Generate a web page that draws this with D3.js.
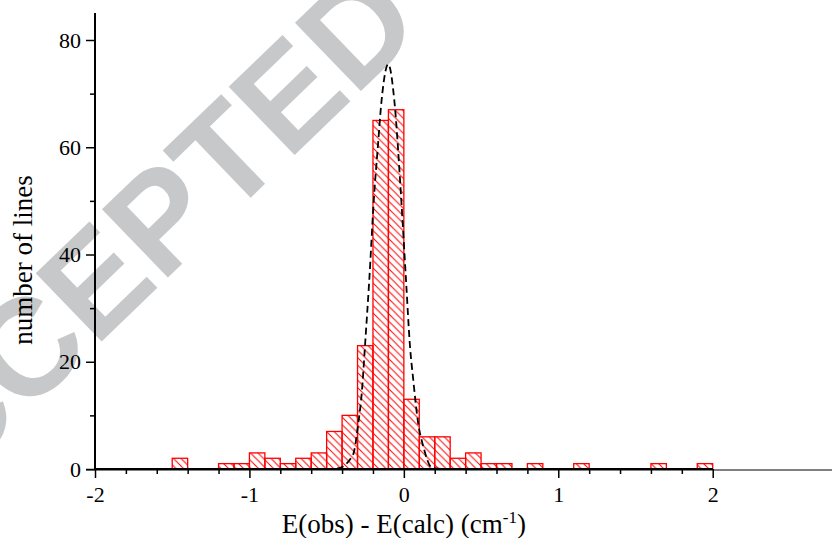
<!DOCTYPE html>
<html>
<head>
<meta charset="utf-8">
<script src="https://cdn.jsdelivr.net/npm/d3@7"></script>
<style>
  body { margin: 0; background: #fff; }
  svg { display: block; }
  .serif { font-family: "Liberation Serif", "Times New Roman", Times, "DejaVu Serif", serif; }
</style>
</head>
<body>
<div id="chart-area"></div>
<script>
// SVG size
let width = 832,
	height = 538;

// histogram bins (left edge, bin width 0.1) and counts
const binStarts = [-1.5, -1.2, -1.1, -1.0, -0.9, -0.8, -0.7, -0.6, -0.5, -0.4, -0.3, -0.2, -0.1, 0.0, 0.1, 0.2, 0.3, 0.4, 0.5, 0.6, 0.8, 1.1, 1.6, 1.9];
const counts    = [2, 1, 1, 3, 2, 1, 2, 3, 7, 10, 23, 65, 67, 13, 6, 6, 2, 3, 1, 1, 1, 1, 1, 1];
const binWidth = 0.1;

// dashed fit curve
const fitX = [-2.0, -0.5, -0.43, -0.33, -0.295, -0.271, -0.252, -0.224, -0.192, -0.170, -0.144, -0.101, -0.062, -0.019, 0.014, 0.040, 0.061, 0.093, 0.126, 0.180, 0.25, 2.0];
const fitY = [0, 0, 0.1, 2.6, 8.5, 14.7, 22.8, 35.2, 51.3, 59.5, 68.8, 75.5, 68.8, 51.3, 35.2, 22.8, 16.6, 8.5, 4.2, 0.3, 0, 0];

// ticks
const xTickVals = [-2, -1, 0, 1, 2];
const xMinorVals = [-1.8, -1.6, -1.4, -1.2, -0.8, -0.6, -0.4, -0.2, 0.2, 0.4, 0.6, 0.8, 1.2, 1.4, 1.6, 1.8];
const yTickVals = [0, 20, 40, 60, 80];
const yMinorVals = [10, 30, 50, 70];

drawChart();

function drawChart() {
	let svg = d3.select("#chart-area").append("svg").attr("width", width).attr("height", height);

	let x = d3.scaleLinear().domain([-2, 2]).range([95, 712.7]);
	let y = d3.scaleLinear().domain([0, 80]).range([469, 40]);

	// hatch pattern
	let defs = svg.append("defs");
	let s = 7.5;
	defs.append("pattern")
		.attr("id", "hatch")
		.attr("patternUnits", "userSpaceOnUse")
		.attr("width", s).attr("height", s)
		.append("path")
		.attr("d", `M${-s/2},${s/2} L${s/2},${s*1.5} M0,0 L${s},${s} M${s/2},${-s/2} L${s*1.5},${s/2}`)
		.attr("stroke", "#ff0000")
		.attr("stroke-width", 1);

	// watermark
	svg.append("text")
		.attr("transform", "translate(153,292) rotate(-44)")
		.attr("text-anchor", "middle")
		.style("font-family", "'Liberation Sans', Arial, sans-serif")
		.style("font-weight", "bold")
		.style("font-size", "138px")
		.style("fill", "#c7c8ca")
		.text("ACCEPTED");

	// gray baseline running to the right edge
	svg.append("line")
		.attr("x1", 86).attr("x2", width)
		.attr("y1", y(0) + 1).attr("y2", y(0) + 1)
		.attr("stroke", "#808080")
		.attr("stroke-width", 2);

	// bars
	svg.selectAll("rect.bar")
		.data(binStarts)
		.enter()
		.append("rect")
		.attr("class", "bar")
		.attr("x", d => x(d))
		.attr("width", d => x(d + binWidth) - x(d))
		.attr("y", (d, i) => y(counts[i]))
		.attr("height", (d, i) => y(0) - y(counts[i]))
		.attr("fill", "url(#hatch)")
		.attr("stroke", "#ff0000")
		.attr("stroke-width", 1.3);

	// axes
	let xAxis = d3.axisBottom(x).tickValues(xTickVals).tickSize(9).tickPadding(8).tickFormat(d => d < 0 ? "-" + Math.abs(d) : d);
	let yAxis = d3.axisLeft(y).tickValues(yTickVals).tickSize(9).tickPadding(5).tickFormat(d3.format("d"));
	let xAxisMinor = d3.axisBottom(x).tickValues(xMinorVals).tickSize(5).tickFormat("");
	let yAxisMinor = d3.axisLeft(y).tickValues(yMinorVals).tickSize(5).tickFormat("");

	let gx = svg.append("g")
		.attr("class", "axis x-axis")
		.attr("transform", "translate(0," + y(0) + ")")
		.call(xAxis);
	svg.append("g")
		.attr("class", "axis x-axis minor")
		.attr("transform", "translate(0," + y(0) + ")")
		.call(xAxisMinor);

	let gy = svg.append("g")
		.attr("class", "axis y-axis")
		.attr("transform", "translate(95,0)")
		.call(yAxis);
	svg.append("g")
		.attr("class", "axis y-axis minor")
		.attr("transform", "translate(95,0)")
		.call(yAxisMinor);

	// style axes
	svg.selectAll(".axis .domain").remove();
	svg.selectAll(".axis .tick line").attr("stroke", "#000").attr("stroke-width", 1.5);
	svg.selectAll(".axis").attr("font-family", null).attr("font-size", null);
	svg.selectAll(".axis text")
		.attr("class", "serif")
		.style("font-size", "22px")
		.attr("fill", "#000");

	svg.append("line")
		.attr("x1", 95).attr("x2", 95).attr("y1", 13).attr("y2", y(0) + 1)
		.attr("stroke", "#000").attr("stroke-width", 2);
	svg.append("line")
		.attr("x1", 95).attr("x2", x(2)).attr("y1", y(0)).attr("y2", y(0))
		.attr("stroke", "#000").attr("stroke-width", 2);

	// dashed fit curve
	let line = d3.line()
		.x((d, i) => x(fitX[i]))
		.y(d => y(d))
		.curve(d3.curveMonotoneX);
	svg.append("path")
		.attr("d", line(fitY))
		.attr("fill", "none")
		.attr("stroke", "#000")
		.attr("stroke-width", 1.8)
		.attr("stroke-dasharray", "7,4");

	// axis labels
	let xl = svg.append("text")
		.attr("class", "serif x axis-label")
		.attr("x", x(0))
		.attr("y", 533)
		.attr("text-anchor", "middle")
		.style("font-size", "27px");
	xl.append("tspan").text("E(obs) - E(calc) (cm");
	xl.append("tspan").attr("dy", -10).style("font-size", "17px").text("-1");
	xl.append("tspan").attr("dy", 10).text(")");

	svg.append("text")
		.attr("class", "serif y axis-label")
		.attr("transform", "translate(32,260) rotate(-90)")
		.attr("text-anchor", "middle")
		.style("font-size", "27px")
		.text("number of lines");
}
</script>
</body>
</html>
